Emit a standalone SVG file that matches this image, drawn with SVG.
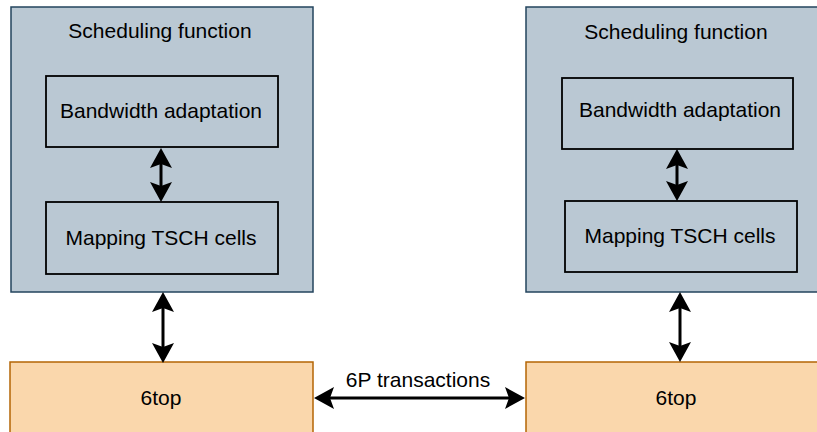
<svg xmlns="http://www.w3.org/2000/svg" width="817" height="432" viewBox="0 0 817 432">
<style>
.sf{fill:#bac8d3;stroke:#23445d;stroke-width:1.5}
.six{fill:#fad7ac;stroke:#b46504;stroke-width:1.5}
.inner{fill:none;stroke:#000;stroke-width:1.8}
text{font-family:"Liberation Sans",Arial,sans-serif;font-size:21px;fill:#000;text-anchor:middle}
.conn{stroke:#000;stroke-width:3;fill:none;marker-start:url(#ah);marker-end:url(#ah)}
</style>
<defs>
<marker id="ah" markerUnits="userSpaceOnUse" viewBox="0 0 20 22" refX="4" refY="11" markerWidth="20" markerHeight="22" orient="auto-start-reverse">
<path d="M20,11 L0,0 L4,11 L0,22 Z" fill="#000"/>
</marker>
</defs>
<rect width="817" height="432" fill="#fff"/>
<g id="left-sf">
<rect class="sf" x="11" y="7" width="302" height="285"/>
<text x="160" y="38">Scheduling function</text>
</g>
<g id="left-bw">
<rect class="inner" x="46" y="76" width="232" height="71"/>
<text x="161" y="118">Bandwidth adaptation</text>
</g>
<g id="left-map">
<rect class="inner" x="46" y="202" width="232" height="72"/>
<text x="161" y="245">Mapping TSCH cells</text>
</g>
<g id="right-sf">
<rect class="sf" x="526" y="7" width="300" height="285"/>
<text x="676" y="39">Scheduling function</text>
</g>
<g id="right-bw">
<rect class="inner" x="562" y="78" width="231" height="71"/>
<text x="680" y="117">Bandwidth adaptation</text>
</g>
<g id="right-map">
<rect class="inner" x="565" y="201" width="232" height="71"/>
<text x="680" y="243">Mapping TSCH cells</text>
</g>
<g id="left-6top">
<rect class="six" x="10" y="362" width="303" height="74"/>
<text x="161" y="405">6top</text>
</g>
<g id="right-6top">
<rect class="six" x="526" y="362" width="300" height="74"/>
<text x="676" y="405">6top</text>
</g>
<g id="connectors">
<line class="conn" x1="161" y1="164" x2="161" y2="186"/>
<line class="conn" x1="677" y1="165" x2="677" y2="185"/>
<line class="conn" x1="163" y1="308" x2="163" y2="347"/>
<line class="conn" x1="680" y1="308" x2="680" y2="346"/>
<line class="conn" x1="330" y1="398" x2="509" y2="398"/>
<text x="418" y="387">6P transactions</text>
</g>
</svg>
